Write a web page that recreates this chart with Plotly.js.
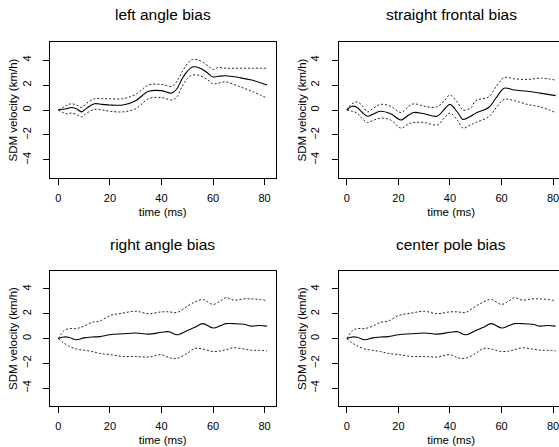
<!DOCTYPE html>
<html>
<head>
<meta charset="utf-8">
<script src="https://cdn.plot.ly/plotly-3.0.1.min.js"></script>
<style>
  html, body { margin: 0; padding: 0; overflow: hidden; background: #fff; }
  #chart { width: 568px; height: 447px; }
</style>
</head>
<body>
<div id="chart"></div>
<script>
// SDM velocity over time for four bias conditions: mean (solid) with confidence bounds (dotted)

const leftTime  = [0, 3, 5, 7, 9, 11, 14, 17, 20, 25, 30, 35, 40, 44, 46, 48, 50, 52, 55, 58, 60, 62, 65, 70, 75, 81];
const leftMean  = [0, 0.1, 0.2, 0.1, -0.15, 0.15, 0.5, 0.45, 0.4, 0.4, 0.75, 1.5, 1.55, 1.35, 1.7, 2.5, 3.1, 3.45, 3.35, 2.95, 2.65, 2.7, 2.75, 2.6, 2.4, 2.0];
const leftUpper = [0, 0.35, 0.5, 0.4, 0.2, 0.55, 0.9, 0.9, 0.9, 0.9, 1.25, 2.0, 2.05, 1.9, 2.3, 3.05, 3.7, 4.05, 3.95, 3.55, 3.25, 3.4, 3.35, 3.35, 3.35, 3.35];
const leftLower = [0, -0.3, -0.25, -0.35, -0.55, -0.25, 0.05, 0.0, -0.1, -0.15, 0.1, 0.9, 1.0, 0.8, 1.05, 1.9, 2.5, 2.8, 2.75, 2.4, 2.1, 2.15, 2.25, 1.9, 1.5, 0.95];

const straightTime  = [0, 2, 4, 6, 8, 10, 13, 17, 21, 24, 26, 30, 35, 38, 40, 43, 45, 48, 50, 55, 58, 61, 65, 70, 75, 81];
const straightMean  = [0, 0.3, 0.2, -0.2, -0.5, -0.35, -0.1, -0.3, -0.8, -0.4, -0.2, -0.3, -0.5, 0.1, 0.45, -0.2, -0.75, -0.5, -0.25, 0.2, 1.0, 1.75, 1.6, 1.5, 1.35, 1.15];
const straightUpper = [0, 0.5, 0.65, 0.35, -0.15, 0.1, 0.45, 0.3, -0.2, 0.3, 0.5, 0.3, 0.25, 0.8, 1.2, 0.6, 0.0, 0.15, 0.75, 1.05, 1.9, 2.6, 2.5, 2.45, 2.55, 2.4];
const straightLower = [0, -0.1, -0.25, -0.7, -1.0, -0.85, -0.65, -0.8, -1.45, -1.1, -1.0, -1.0, -1.2, -0.6, -0.25, -0.85, -1.45, -1.2, -1.0, -0.55, 0.2, 0.85, 0.75, 0.45, 0.25, -0.2];

const rightTime  = [0, 2, 4, 7, 10, 13, 16, 20, 25, 30, 35, 40, 43, 46, 50, 53, 56, 60, 63, 65, 68, 72, 75, 78, 81];
const rightMean  = [0, 0.12, 0.1, -0.1, 0.05, 0.12, 0.15, 0.3, 0.38, 0.45, 0.35, 0.5, 0.55, 0.3, 0.65, 0.9, 1.2, 0.85, 1.05, 1.2, 1.2, 1.15, 1.0, 1.05, 1.0];
const rightUpper = [0, 0.6, 0.8, 0.8, 1.0, 1.3, 1.4, 1.85, 2.05, 2.2, 2.0, 2.15, 2.15, 2.1, 2.6, 2.95, 3.15, 2.75, 3.05, 3.3, 3.1, 3.2, 3.2, 3.15, 3.05];
const rightLower = [0, -0.35, -0.6, -0.85, -0.95, -1.05, -1.2, -1.3, -1.45, -1.45, -1.5, -1.3, -1.55, -1.6, -1.2, -0.8, -0.85, -1.05, -1.0, -0.9, -0.75, -0.85, -0.95, -0.95, -1.0];

const centerTime  = [0, 2, 4, 7, 10, 13, 16, 20, 25, 30, 35, 40, 43, 46, 50, 53, 56, 60, 63, 65, 68, 72, 75, 78, 81];
const centerMean  = [0, 0.12, 0.1, -0.1, 0.05, 0.12, 0.15, 0.3, 0.38, 0.45, 0.35, 0.5, 0.55, 0.3, 0.65, 0.9, 1.2, 0.85, 1.05, 1.2, 1.2, 1.15, 1.0, 1.05, 1.0];
const centerUpper = [0, 0.6, 0.8, 0.8, 1.0, 1.3, 1.4, 1.85, 2.05, 2.2, 2.0, 2.15, 2.15, 2.1, 2.6, 2.95, 3.15, 2.75, 3.05, 3.3, 3.1, 3.2, 3.2, 3.15, 3.05];
const centerLower = [0, -0.35, -0.6, -0.85, -0.95, -1.05, -1.2, -1.3, -1.45, -1.45, -1.5, -1.3, -1.55, -1.6, -1.2, -0.8, -0.85, -1.05, -1.0, -0.9, -0.75, -0.85, -0.95, -0.95, -1.0];

const panelTitles = ['left angle bias', 'straight frontal bias', 'right angle bias', 'center pole bias'];
const xTicks = [0, 20, 40, 60, 80];
const yTicks = [-4, -2, 0, 2, 4];

const panels = [
  { t: leftTime, mean: leftMean, up: leftUpper, lo: leftLower },
  { t: straightTime, mean: straightMean, up: straightUpper, lo: straightLower },
  { t: rightTime, mean: rightMean, up: rightUpper, lo: rightLower },
  { t: centerTime, mean: centerMean, up: centerUpper, lo: centerLower }
];

// figure is slightly wider than the window so the right column runs off the edge
const W = 568, H = 447;
const colPx = [[50, 275.5], [338.5, 564]];
const rowPx = [[42, 178], [271, 406]];
const FONT = 'Liberation Sans, Arial, Helvetica, sans-serif';

const traces = [];
const layout = {
  width: W, height: H,
  margin: { l: 0, r: 0, t: 0, b: 0 },
  paper_bgcolor: '#fff', plot_bgcolor: '#fff',
  showlegend: false,
  font: { family: FONT, color: '#000' },
  annotations: []
};

panels.forEach((p, i) => {
  const n = i + 1;
  const xa = 'x' + (n === 1 ? '' : n), ya = 'y' + (n === 1 ? '' : n);
  const col = colPx[i % 2], row = rowPx[Math.floor(i / 2)];

  const dotted = { color: '#222', width: 1, dash: '2px,2px', shape: 'spline', smoothing: 1 };
  traces.push({ x: p.t, y: p.up, xaxis: xa, yaxis: ya, mode: 'lines', line: dotted, hoverinfo: 'skip' });
  traces.push({ x: p.t, y: p.lo, xaxis: xa, yaxis: ya, mode: 'lines', line: dotted, hoverinfo: 'skip' });
  traces.push({ x: p.t, y: p.mean, xaxis: xa, yaxis: ya, mode: 'lines',
                line: { color: '#000', width: 1.1, shape: 'spline', smoothing: 1 } });

  const common = {
    showgrid: false, zeroline: false,
    showline: true, mirror: true, linecolor: '#000', linewidth: 1,
    ticks: 'outside', ticklen: 6, tickwidth: 1, tickcolor: '#000',
    tickfont: { family: FONT, size: 11, color: '#000' },
    fixedrange: true
  };
  layout['xaxis' + (n === 1 ? '' : n)] = Object.assign({}, common, {
    domain: [col[0] / W, col[1] / W],
    anchor: ya,
    range: [-3.24, 84.24],
    tickmode: 'array', tickvals: xTicks,
    ticklabelstandoff: 4,
    title: { text: 'time (ms)', font: { family: FONT, size: 11.5, color: '#000' }, standoff: 4 }
  });
  layout['yaxis' + (n === 1 ? '' : n)] = Object.assign({}, common, {
    domain: [1 - row[1] / H, 1 - row[0] / H],
    anchor: xa,
    range: [-5.45, 5.45],
    tickmode: 'array', tickvals: yTicks,
    tickangle: -90,
    ticklabelstandoff: 8,
    title: { text: 'SDM velocity (km/h)', font: { family: FONT, size: 11.5, color: '#000' }, standoff: 0 }
  });

  layout.annotations.push({
    text: panelTitles[i], showarrow: false,
    xref: 'paper', yref: 'paper',
    x: (col[0] + col[1]) / 2 / W, y: 1 - (row[0] - 27) / H,
    xanchor: 'center', yanchor: 'middle',
    font: { family: FONT, size: 15.5, color: '#000' }
  });
});

Plotly.newPlot('chart', traces, layout, { staticPlot: true, displayModeBar: false });
</script>
</body>
</html>
